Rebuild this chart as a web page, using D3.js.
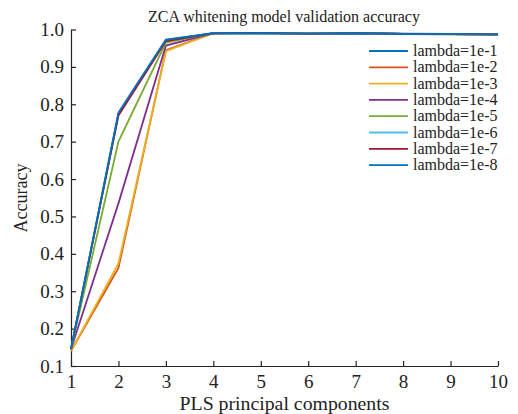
<!DOCTYPE html>
<html><head><meta charset="utf-8">
<script src="https://cdn.jsdelivr.net/npm/d3@7"></script>
<style>body{margin:0;background:#fff}svg{display:block}</style>
</head><body>
<script>
const components = [1,2,3,4,5,6,7,8,9,10];
const seriesNames = ["lambda=1e-1","lambda=1e-2","lambda=1e-3","lambda=1e-4","lambda=1e-5","lambda=1e-6","lambda=1e-7","lambda=1e-8"];
const acc1 = [0.145,0.775,0.972,0.990,0.990,0.989,0.990,0.988,0.988,0.987];
const acc2 = [0.140,0.362,0.945,0.990,0.991,0.989,0.989,0.988,0.987,0.986];
const acc3 = [0.140,0.374,0.942,0.990,0.990,0.989,0.989,0.988,0.987,0.987];
const acc4 = [0.145,0.535,0.957,0.990,0.990,0.989,0.990,0.988,0.988,0.987];
const acc5 = [0.145,0.700,0.965,0.990,0.990,0.989,0.990,0.988,0.988,0.987];
const acc6 = [0.145,0.772,0.970,0.990,0.990,0.989,0.990,0.988,0.988,0.987];
const acc7 = [0.145,0.770,0.969,0.990,0.991,0.989,0.990,0.989,0.988,0.987];
const acc8 = [0.145,0.778,0.973,0.990,0.990,0.989,0.990,0.988,0.988,0.987];
const yTicks = [0.1,0.2,0.3,0.4,0.5,0.6,0.7,0.8,0.9,1.0];
const colors = ["#0072BD","#D95319","#EDB120","#7E2F8E","#77AC30","#4DBEEE","#A2142F","#0072BD"];
const allSeries = [acc1,acc2,acc3,acc4,acc5,acc6,acc7,acc8];

const W=518,H=414;
const svg=d3.select("body").append("svg").attr("width",W).attr("height",H);
const x=d3.scaleLinear().domain([1,10]).range([71,498]);
const y=d3.scaleLinear().domain([0.1,1.0]).range([366,29.5]);
const font="Liberation Serif";

const gx=svg.append("g").attr("transform","translate(0,366)")
  .call(d3.axisBottom(x).tickValues(components).tickFormat(d3.format("d")).tickSizeInner(-5).tickSizeOuter(0).tickPadding(9));
const gy=svg.append("g").attr("transform","translate(71,0)")
  .call(d3.axisLeft(y).tickValues(yTicks).tickFormat(d3.format(".1f")).tickSizeInner(-5).tickSizeOuter(0).tickPadding(7));
[gx,gy].forEach(g=>{
  g.selectAll("text").attr("font-family",font).attr("font-size",19).attr("fill","#222");
  g.selectAll("line,path").attr("stroke","#222").attr("stroke-width",1.2);
});

const line=d3.line().x((d,i)=>x(components[i])).y(d=>y(d));
allSeries.forEach((s,k)=>{
  svg.append("path").datum(s).attr("d",line).attr("fill","none")
    .attr("stroke",colors[k]).attr("stroke-width",1.8);
});

svg.append("text").attr("x",284).attr("y",22).attr("text-anchor","middle")
  .attr("font-family",font).attr("font-size",16).attr("fill","#222")
  .text("ZCA whitening model validation accuracy");
svg.append("text").attr("transform","translate(284.5,410) scale(1.1,1)").attr("text-anchor","middle")
  .attr("font-family",font).attr("font-size",18).attr("fill","#222")
  .text("PLS principal components");
svg.append("text").attr("transform","translate(27,198) rotate(-90)").attr("text-anchor","middle")
  .attr("font-family",font).attr("font-size",18).attr("fill","#222")
  .text("Accuracy");

const lg=svg.append("g");
seriesNames.forEach((n,k)=>{
  const yy=51+k*16.3;
  lg.append("line").attr("x1",369).attr("x2",408).attr("y1",yy).attr("y2",yy)
    .attr("stroke",colors[k]).attr("stroke-width",1.8);
  lg.append("text").attr("x",413).attr("y",yy+5).attr("font-family",font)
    .attr("font-size",16).attr("fill","#222").text(n);
});
</script>
</body></html>
